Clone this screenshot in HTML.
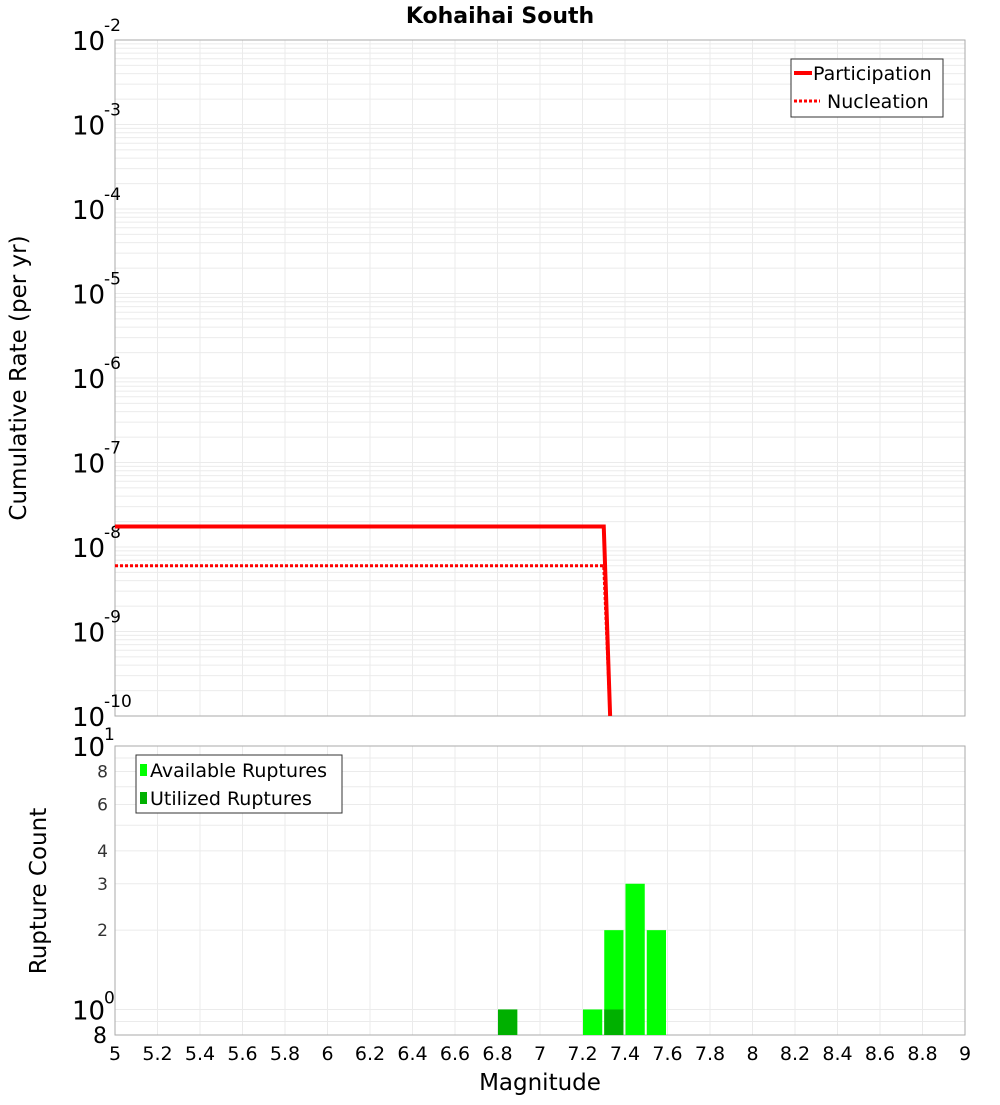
<!DOCTYPE html>
<html><head><meta charset="utf-8"><style>
body{margin:0;background:#fff;font-family:"Liberation Sans","DejaVu Sans",sans-serif}
svg text{font-family:"DejaVu Sans","Liberation Sans",sans-serif}
</style></head><body>
<svg id="c" width="1000" height="1100" xmlns="http://www.w3.org/2000/svg"></svg>
<script>
const partMags=[5,6.8,7.3,7.33];
const partRates=[1.75e-8,1.75e-8,1.75e-8,1e-10];
const nuclMags=[5,6.8,7.3,7.33];
const nuclRates=[6e-9,6e-9,6e-9,1e-10];
const binStarts=[6.8,7.2,7.3,7.4,7.5];
const availCounts=[1,1,2,3,2];
const utilBinStarts=[6.8,7.3];
const utilCounts=[1,1];
const xTicks=[5,5.2,5.4,5.6,5.8,6,6.2,6.4,6.6,6.8,7,7.2,7.4,7.6,7.8,8,8.2,8.4,8.6,8.8,9];
const topExps=[-2,-3,-4,-5,-6,-7,-8,-9,-10];
const botTicks=[8,6,4,3,2];

const svg=document.getElementById('c');const NS='http://www.w3.org/2000/svg';
function el(t,a,p){const e=document.createElementNS(NS,t);for(const k in a)e.setAttribute(k,a[k]);(p||svg).appendChild(e);return e;}
const X0=115,X1=965;
const x=m=>X0+(m-5)/4*(X1-X0);
const TY0=40,TY1=716;
const ty=v=>TY0+(-2-Math.log10(v))/8*(TY1-TY0);
const BY0=746,BY1=1035;
const bmin=Math.log10(0.8),bmax=1;
const by=v=>BY1-(Math.log10(v)-bmin)/(bmax-bmin)*(BY1-BY0);

// title
let t=el('text',{x:500,y:23,'text-anchor':'middle','font-size':22,'font-weight':'bold'});t.textContent='Kohaihai South';


// top plot grid
const g1=el('g',{});
for(let e=-10;e<-2;e++)for(let k=1;k<10;k++){const yy=ty(k*Math.pow(10,e));el('line',{x1:X0,x2:X1,y1:yy,y2:yy,stroke:'#ebebeb','stroke-width':1},g1);}
xTicks.forEach(m=>{el('line',{x1:x(m),x2:x(m),y1:TY0,y2:TY1,stroke:'#ebebeb'},g1);el('line',{x1:x(m),x2:x(m),y1:BY0,y2:BY1,stroke:'#ebebeb'},g1);});
for(let k=1;k<=10;k++){const yy=by(k);el('line',{x1:X0,x2:X1,y1:yy,y2:yy,stroke:'#ebebeb'},g1);}
el('line',{x1:X0,x2:X1,y1:by(0.9),y2:by(0.9),stroke:'#ebebeb'},g1);
let r=el('rect',{x:X0,y:TY0,width:X1-X0,height:TY1-TY0,fill:'none',stroke:'#aaa'});
r=el('rect',{x:X0,y:BY0,width:X1-X0,height:BY1-BY0,fill:'none',stroke:'#aaa'});

// top y ticks
topExps.forEach(e=>{const yy=ty(Math.pow(10,e));const tx=el('text',{x:72,y:yy+10,'font-size':26});tx.textContent='10';

const s=el('text',{x:104,y:yy-9,'font-size':17});s.textContent=String(e);});
t=el('text',{x:26,y:378,'font-size':23,'text-anchor':'middle',transform:'rotate(-90 26 378)'});t.textContent='Cumulative Rate (per yr)';


// lines
function path(ms,rs){return ms.map((m,i)=>(i?'L':'M')+x(m)+','+ty(rs[i])).join(' ');}
let p=el('path',{d:path(partMags,partRates),fill:'none',stroke:'#f00','stroke-width':4});
p=el('path',{d:path(nuclMags,nuclRates),fill:'none',stroke:'#f00','stroke-width':3,'stroke-dasharray':'3,2'});

// top legend
const lg=el('g',{});
el('rect',{x:791,y:59,width:152,height:58,fill:'#fff',stroke:'#333'},lg);
el('line',{x1:794,x2:812,y1:73,y2:73,stroke:'#f00','stroke-width':4},lg);
el('line',{x1:794,x2:820,y1:101,y2:101,stroke:'#f00','stroke-width':3,'stroke-dasharray':'3,2'},lg);
t=el('text',{x:813,y:80,'font-size':19},lg);t.textContent='Participation';
t=el('text',{x:827,y:108,'font-size':19},lg);t.textContent='Nucleation';

// bars
binStarts.forEach((b,i)=>{const rr=el('rect',{x:x(b)+0.5,y:by(availCounts[i]),width:x(b+0.1)-x(b)-2,height:BY1-by(availCounts[i]),fill:'#00ff00'});
});
utilBinStarts.forEach((b,i)=>{const rr=el('rect',{x:x(b)+0.5,y:by(utilCounts[i]),width:x(b+0.1)-x(b)-2,height:BY1-by(utilCounts[i]),fill:'#00b000'});
});

// bottom y ticks
t=el('text',{x:72,y:by(10)+10,'font-size':26});t.textContent='10';
t=el('text',{x:104,y:by(10)-6,'font-size':17});t.textContent='1';
t=el('text',{x:72,y:by(1)+10,'font-size':26});t.textContent='10';
t=el('text',{x:104,y:by(1)-6,'font-size':17});t.textContent='0';
t=el('text',{x:107,y:BY1+8,'font-size':22,'text-anchor':'end'});t.textContent='8';
botTicks.forEach(v=>{const tx=el('text',{x:108,y:by(v)+6,'font-size':17,'text-anchor':'end','fill':'#333'});tx.textContent=String(v);
});
t=el('text',{x:46,y:891,'font-size':23,'text-anchor':'middle',transform:'rotate(-90 46 891)'});t.textContent='Rupture Count';


// bottom legend
const lg2=el('g',{});
el('rect',{x:136,y:755,width:206,height:58,fill:'#fff',stroke:'#333'},lg2);
el('rect',{x:140,y:764,width:7,height:12,fill:'#00ff00'},lg2);
el('rect',{x:140,y:792,width:7,height:12,fill:'#00b000'},lg2);
t=el('text',{x:150,y:777,'font-size':19},lg2);t.textContent='Available Ruptures';
t=el('text',{x:150,y:805,'font-size':19},lg2);t.textContent='Utilized Ruptures';

// x ticks
xTicks.forEach(m=>{const tx=el('text',{x:x(m),y:1060,'font-size':19,'text-anchor':'middle'});tx.textContent=String(m);
});
t=el('text',{x:540,y:1090,'font-size':23,'text-anchor':'middle'});t.textContent='Magnitude';

</script>
</body></html>
